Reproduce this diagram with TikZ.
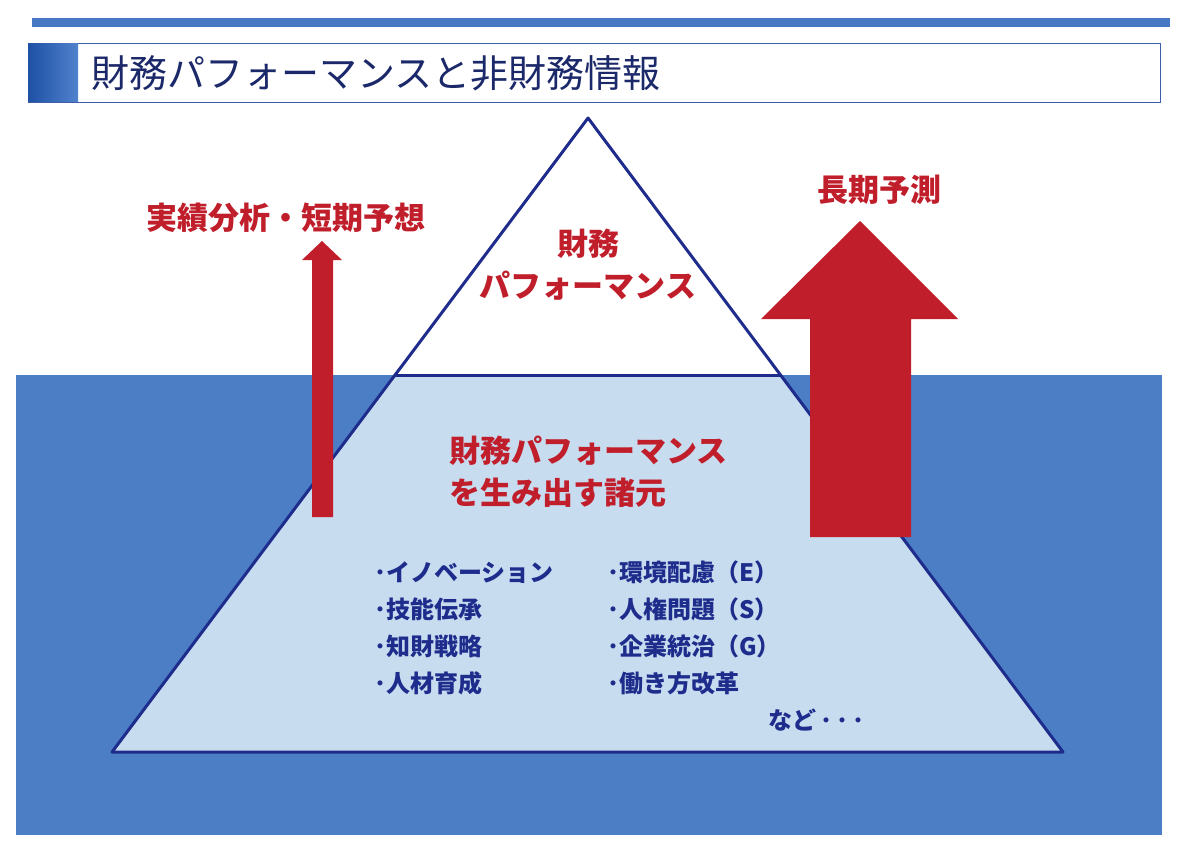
\documentclass[tikz,border=0pt]{standalone}
\usepackage{fontspec}
\setmainfont{Noto Sans CJK JP}
\definecolor{sea}{RGB}{76,126,198}
\definecolor{ice}{RGB}{200,220,240}
\definecolor{navy}{RGB}{30,44,140}
\definecolor{titlenavy}{RGB}{27,40,105}
\definecolor{redx}{RGB}{192,30,42}
\definecolor{barblue}{RGB}{70,120,195}
\definecolor{boxline}{RGB}{60,95,170}
\definecolor{sqdark}{RGB}{30,80,165}
\definecolor{sqlight}{RGB}{80,130,205}
\tikzset{
  redtxt/.style={text=redx, font=\fontsize{31}{42}\selectfont\bfseries, inner sep=0pt},
  listtxt/.style={text=navy, font=\fontsize{24}{37}\selectfont\bfseries, inner sep=0pt, align=left},
  pyrline/.style={draw=navy, line width=3pt, line join=round},
  redarrow/.style={fill=redx, draw=none}
}
\begin{document}
\begin{tikzpicture}[x=1pt,y=-1pt]
\useasboundingbox (0,0) rectangle (1180,846);
\fill[white] (0,0) rectangle (1180,846);
% top bar
\fill[barblue] (32,18) rectangle (1170,27);
% title box
\draw[boxline, line width=1pt, fill=white] (28,43) rectangle (1160,102);
\shade[left color=sqdark, right color=sqlight] (28.5,43.5) rectangle (78,101.5);
\node[anchor=west, text=titlenavy, font=\fontsize{38}{40}\selectfont, inner sep=0pt] (title) at (91,73) {財務パフォーマンスと非財務情報};
% sea
\fill[sea] (16,375) rectangle (1162,835);
% pyramid
\fill[ice] (395,375) -- (780,375) -- (1063,752) -- (112,752) -- cycle;
\fill[white] (588,118) -- (780,375) -- (395,375) -- cycle;
\coordinate (apex) at (588,118);
\coordinate (bl) at (112,752);
\coordinate (br) at (1063,752);
\coordinate (wl) at (395,375);
\coordinate (wr) at (780,375);
\draw[pyrline] (apex) -- (br) -- (bl) -- cycle;
\draw[pyrline] (wl) -- (wr);
% arrows
\fill[redarrow] (312,517) -- (312,260) -- (302,260) -- (322,241) -- (342,260) -- (333,260) -- (333,517) -- cycle;
\fill[redarrow] (810,537) -- (810,319) -- (761,319) -- (860,221) -- (958,319) -- (911,319) -- (911,537) -- cycle;
% labels
\node[redtxt] (lshort) at (286,218) {実績分析・短期予想};
\node[redtxt] (llong) at (879,190) {長期予測};
\node[redtxt, align=center] (top) at (588,265) {財務\\パフォーマンス};
\node[redtxt, align=left, anchor=north west] (mid) at (449,436) {財務パフォーマンス\\を生み出す諸元};
% lists
\node[listtxt, anchor=north west] (listl) at (374,561) {･イノベーション\\･技能伝承\\･知財戦略\\･人材育成};
\node[listtxt, anchor=north west] (listr) at (607,561) {･環境配慮（E）\\･人権問題（S）\\･企業統治（G）\\･働き方改革};
\node[listtxt, anchor=west] (etc) at (768,720) {など\,･\,･\,･};
\end{tikzpicture}
\end{document}
